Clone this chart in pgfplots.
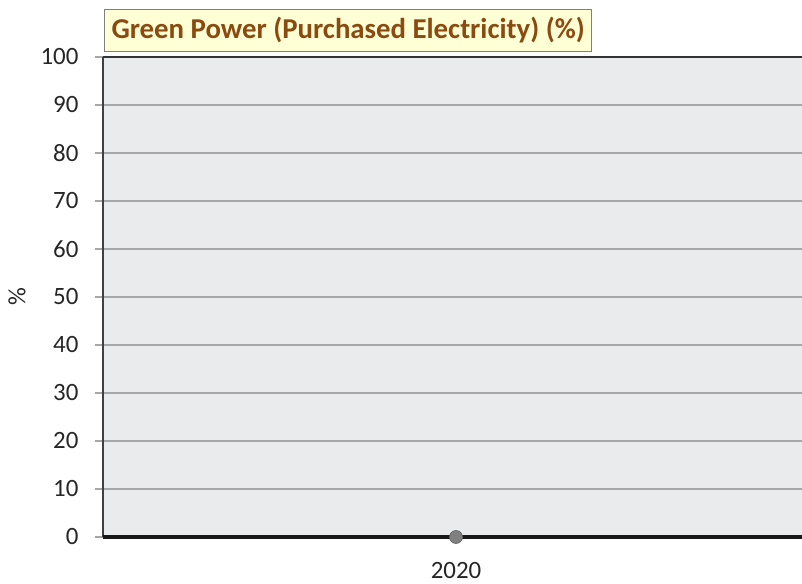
\documentclass[border=0pt]{standalone}
\usepackage{pgfplots}
\pgfplotsset{compat=1.18}
\usepackage{fontspec}
\setmainfont{Carlito}
\definecolor{plotbg}{HTML}{EAEBED}
\definecolor{gridc}{HTML}{A6A6A6}
\definecolor{titlefill}{HTML}{FFFFD5}
\definecolor{titletext}{HTML}{8B4A10}
\definecolor{markc}{HTML}{808080}
\begin{document}
\begin{tikzpicture}[x=1bp,y=1bp]
\begin{axis}[
  at={(103bp,47bp)}, anchor=south west,
  scale only axis, width=699bp, height=480bp,
  xmin=-1, xmax=1.0, ymin=0, ymax=100,
  ytick={0,10,...,100},
  xtick={0.01}, xticklabels={2020},
  ymajorgrids, grid style={gridc, line width=1.2bp},
  axis background/.style={fill=plotbg},
  axis line style={draw=none},
  tick style={gridc, line width=1.2bp},
  major tick length=8bp,
  ytick pos=left, xtick style={draw=none},
  tick align=outside,
  ticklabel style={font=\fontsize{25}{28}\selectfont, text=black!85},
  /pgf/number format/assume math mode=true,
  yticklabel style={xshift=-13bp},
  xticklabel style={yshift=-14bp},
  clip=false,
]
\addplot[only marks, mark=*, mark size=6.5bp, mark options={fill=markc, draw=markc!75!black, line width=0.6bp}] coordinates {(0.01,0)};
\draw[black!75, line width=2bp] (rel axis cs:0,0) -- (rel axis cs:0,1);
\draw[black!80, line width=2bp] (rel axis cs:0,1) -- (rel axis cs:1,1);
\draw[black!90, line width=3bp] (rel axis cs:0,0) -- (rel axis cs:1,0);
\node[rotate=90, font=\fontsize{25}{28}\selectfont, text=black!85] at ([xshift=-86bp]rel axis cs:0,0.5) {\%};
\node[anchor=south west, fill=titlefill, draw=gray, line width=1bp, inner xsep=7bp, inner ysep=5bp,
  font=\bfseries\fontsize{28.9}{32}\selectfont, text=titletext, minimum height=42bp]
  at ([xshift=1bp,yshift=5bp]rel axis cs:0,1) {Green Power (Purchased Electricity) (\%)};
\end{axis}
\pgfresetboundingbox
\path[use as bounding box] (0,0) rectangle (802bp,584bp);
\end{tikzpicture}
\end{document}
